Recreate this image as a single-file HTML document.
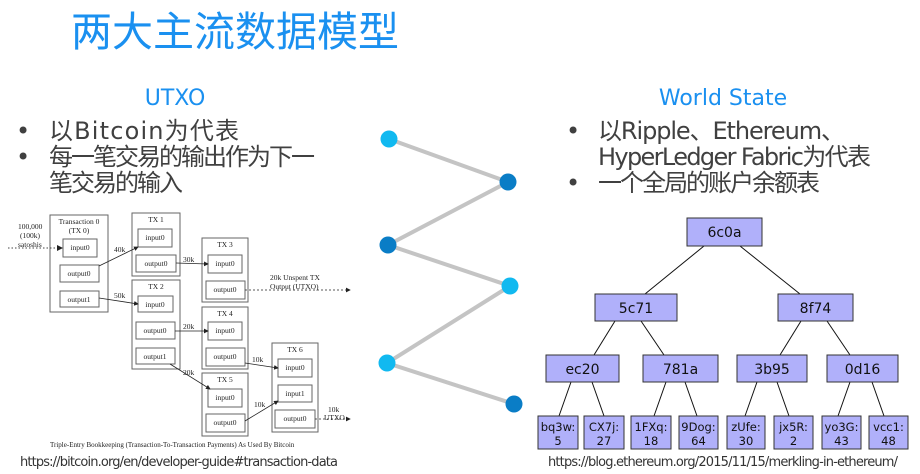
<!DOCTYPE html>
<html><head><meta charset="utf-8"><style>
html,body{margin:0;padding:0;background:#fff;width:920px;height:474px;overflow:hidden}
svg{display:block}
.cj{font-family:"DejaVu Sans","Noto Sans CJK SC",sans-serif}
.se{font-family:"Liberation Serif",serif;font-size:7.5px;fill:#222}
.b{fill:#fff;stroke:#666;stroke-width:1}
.n{fill:#b0b0fa;stroke:#333;stroke-width:1}
.t{font-family:"DejaVu Sans",sans-serif;font-size:14px;fill:#111;text-anchor:middle}
.l{font-family:"DejaVu Sans",sans-serif;font-size:11.5px;fill:#111;text-anchor:middle}
</style></head><body>
<svg width="920" height="474" viewBox="0 0 920 474" xmlns="http://www.w3.org/2000/svg">
<defs><marker id="a" markerWidth="6" markerHeight="6" refX="5" refY="3" orient="auto"><path d="M0,0L6,3L0,6z" fill="#222"/></marker></defs>
<text x="71" y="46" font-family="Liberation Sans,Noto Sans CJK SC,sans-serif" font-size="41" fill="#1a90f0">两大主流数据模型</text>
<text x="175" y="105" class="cj" font-size="22" fill="#1a90f0" text-anchor="middle">UTXO</text>
<g class="cj" font-size="24" fill="#404040">
<text x="16" y="139">•</text><text x="49" y="139" textLength="190">以Bitcoin为代表</text>
<text x="16" y="165">•</text><text x="49" y="165" textLength="266">每一笔交易的输出作为下一</text>
<text x="49" y="191" textLength="134">笔交易的输入</text>
</g>
<text x="723" y="105" class="cj" font-size="22" fill="#1a90f0" text-anchor="middle">World State</text>
<g class="cj" font-size="24" fill="#404040">
<text x="566" y="139">•</text><text x="598" y="139" textLength="247">以Ripple、Ethereum、</text>
<text x="598" y="165" textLength="273">HyperLedger Fabric为代表</text>
<text x="566" y="191">•</text><text x="598" y="191" textLength="222">一个全局的账户余额表</text>
</g>
<polyline points="389,139 508,182 388,245 510,286 387,363 514,404" fill="none" stroke="#c4c4c4" stroke-width="4"/>
<circle cx="389" cy="139" r="8.5" fill="#11b9f0"/><circle cx="508" cy="182" r="8.5" fill="#0a7dc6"/>
<circle cx="388" cy="245" r="8.5" fill="#0a7dc6"/><circle cx="510" cy="286" r="8.5" fill="#11b9f0"/>
<circle cx="387" cy="363" r="8.5" fill="#11b9f0"/><circle cx="514" cy="404" r="8.5" fill="#0a7dc6"/>
<g class="se">
<rect class="b" x="50" y="215" width="58" height="97"/><text x="79" y="224" text-anchor="middle">Transaction 0</text><text x="79" y="233" text-anchor="middle">(TX 0)</text>
<rect class="b" x="63" y="239" width="34" height="18"/><text x="80" y="250" text-anchor="middle">input0</text>
<rect class="b" x="60" y="265" width="39" height="17"/><text x="79" y="276" text-anchor="middle">output0</text>
<rect class="b" x="60" y="291" width="39" height="16"/><text x="79" y="302" text-anchor="middle">output1</text>
<text x="18" y="229">100,000</text><text x="20" y="238">(100k)</text><text x="18" y="247">satoshis</text>
<line x1="8" y1="248" x2="62" y2="248" stroke="#444" stroke-dasharray="1.5,2" marker-end="url(#a)"/>
<rect class="b" x="132" y="213" width="48" height="63"/><text x="156" y="222" text-anchor="middle">TX 1</text>
<rect class="b" x="138" y="229" width="34" height="18"/><text x="155" y="240" text-anchor="middle">input0</text>
<rect class="b" x="136" y="255" width="40" height="17"/><text x="156" y="266" text-anchor="middle">output0</text>
<rect class="b" x="132" y="280" width="48" height="89"/><text x="156" y="289" text-anchor="middle">TX 2</text>
<rect class="b" x="138" y="296" width="35" height="16"/><text x="155" y="307" text-anchor="middle">input0</text>
<rect class="b" x="136" y="322" width="39" height="17"/><text x="155" y="333" text-anchor="middle">output0</text>
<rect class="b" x="136" y="348" width="39" height="16"/><text x="155" y="359" text-anchor="middle">output1</text>
<rect class="b" x="202" y="238" width="46" height="64"/><text x="225" y="247" text-anchor="middle">TX 3</text>
<rect class="b" x="208" y="255" width="34" height="18"/><text x="225" y="266" text-anchor="middle">input0</text>
<rect class="b" x="206" y="281" width="39" height="18"/><text x="225" y="292" text-anchor="middle">output0</text>
<rect class="b" x="202" y="307" width="46" height="62"/><text x="225" y="316" text-anchor="middle">TX 4</text>
<rect class="b" x="208" y="322" width="34" height="18"/><text x="225" y="333" text-anchor="middle">input0</text>
<rect class="b" x="206" y="348" width="39" height="18"/><text x="225" y="359" text-anchor="middle">output0</text>
<rect class="b" x="202" y="373" width="46" height="63"/><text x="225" y="382" text-anchor="middle">TX 5</text>
<rect class="b" x="208" y="389" width="34" height="18"/><text x="225" y="400" text-anchor="middle">input0</text>
<rect class="b" x="206" y="414" width="39" height="18"/><text x="225" y="425" text-anchor="middle">output0</text>
<rect class="b" x="272" y="343" width="46" height="89"/><text x="295" y="352" text-anchor="middle">TX 6</text>
<rect class="b" x="278" y="359" width="34" height="18"/><text x="295" y="370" text-anchor="middle">input0</text>
<rect class="b" x="278" y="385" width="34" height="17"/><text x="295" y="396" text-anchor="middle">input1</text>
<rect class="b" x="275" y="410" width="40" height="18"/><text x="295" y="421" text-anchor="middle">output0</text>
<g stroke="#222" stroke-width="0.8" fill="none">
<line x1="99" y1="266" x2="138" y2="247" marker-end="url(#a)"/>
<line x1="99" y1="298" x2="138" y2="304" marker-end="url(#a)"/>
<line x1="176" y1="263" x2="208" y2="264" marker-end="url(#a)"/>
<line x1="175" y1="331" x2="208" y2="331" marker-end="url(#a)"/>
<line x1="170" y1="364" x2="210" y2="389" marker-end="url(#a)"/>
<line x1="245" y1="363" x2="278" y2="368" marker-end="url(#a)"/>
<line x1="245" y1="421" x2="278" y2="401" marker-end="url(#a)"/>
<line x1="245" y1="290" x2="350" y2="290" stroke-dasharray="2,2" marker-end="url(#a)"/>
<line x1="315" y1="419" x2="350" y2="419" stroke-dasharray="2,2" marker-end="url(#a)"/>
</g>
<text x="114" y="252">40k</text><text x="114" y="298">50k</text><text x="183" y="262">30k</text>
<text x="183" y="329">20k</text><text x="183" y="375">20k</text><text x="252" y="362">10k</text><text x="254" y="407">10k</text>
<text x="270" y="280">20k Unspent TX</text><text x="270" y="289">Output (UTXO)</text>
<text x="328" y="412">10k</text><text x="324" y="420">UTXO</text>
<text x="50" y="447" font-size="7">Triple-Entry Bookkeeping (Transaction-To-Transaction Payments) As Used By Bitcoin</text>
</g>
<text x="20" y="466" font-family="DejaVu Sans,sans-serif" font-size="13" fill="#333" textLength="318">https://bitcoin.org/en/developer-guide#transaction-data</text>
<g stroke="#111" stroke-width="1" fill="none">
<line x1="704" y1="246" x2="645" y2="294"/><line x1="740" y1="246" x2="800" y2="294"/>
<line x1="615" y1="321" x2="594" y2="355"/><line x1="641" y1="321" x2="664" y2="355"/>
<line x1="801" y1="321" x2="780" y2="355"/><line x1="827" y1="321" x2="850" y2="355"/>
<line x1="571" y1="382" x2="559" y2="416"/><line x1="592" y1="382" x2="604" y2="416"/>
<line x1="666" y1="382" x2="654" y2="416"/><line x1="685" y1="382" x2="697" y2="416"/>
<line x1="757" y1="382" x2="745" y2="416"/><line x1="777" y1="382" x2="789" y2="416"/>
<line x1="850" y1="382" x2="838" y2="416"/><line x1="872" y1="382" x2="884" y2="416"/>
</g>
<rect class="n" x="687" y="218" width="75" height="28"/><text class="t" x="724.5" y="237">6c0a</text>
<rect class="n" x="595" y="294" width="82" height="27"/><text class="t" x="636" y="313">5c71</text>
<rect class="n" x="778" y="294" width="75" height="27"/><text class="t" x="815.5" y="313">8f74</text>
<rect class="n" x="546" y="355" width="73" height="27"/><text class="t" x="582.5" y="374">ec20</text>
<rect class="n" x="643" y="355" width="75" height="27"/><text class="t" x="680.5" y="374">781a</text>
<rect class="n" x="737" y="355" width="70" height="27"/><text class="t" x="772" y="374">3b95</text>
<rect class="n" x="827" y="355" width="71" height="27"/><text class="t" x="862.5" y="374">0d16</text>
<rect class="n" x="538" y="416" width="40" height="33"/><text class="l" x="558" y="431">bq3w:</text><text class="l" x="558" y="445">5</text>
<rect class="n" x="584" y="416" width="40" height="33"/><text class="l" x="604" y="431">CX7j:</text><text class="l" x="604" y="445">27</text>
<rect class="n" x="631" y="416" width="40" height="33"/><text class="l" x="651" y="431">1FXq:</text><text class="l" x="651" y="445">18</text>
<rect class="n" x="679" y="416" width="39" height="33"/><text class="l" x="698.5" y="431">9Dog:</text><text class="l" x="698.5" y="445">64</text>
<rect class="n" x="727" y="416" width="38" height="33"/><text class="l" x="746" y="431">zUfe:</text><text class="l" x="746" y="445">30</text>
<rect class="n" x="774" y="416" width="39" height="33"/><text class="l" x="793.5" y="431">jx5R:</text><text class="l" x="793.5" y="445">2</text>
<rect class="n" x="822" y="416" width="39" height="33"/><text class="l" x="841.5" y="431">yo3G:</text><text class="l" x="841.5" y="445">43</text>
<rect class="n" x="869" y="416" width="39" height="33"/><text class="l" x="888.5" y="431">vcc1:</text><text class="l" x="888.5" y="445">48</text>
<text x="548" y="466" font-family="DejaVu Sans,sans-serif" font-size="13" fill="#333" textLength="350">https://blog.ethereum.org/2015/11/15/merkling-in-ethereum/</text>
</svg>
</body></html>
